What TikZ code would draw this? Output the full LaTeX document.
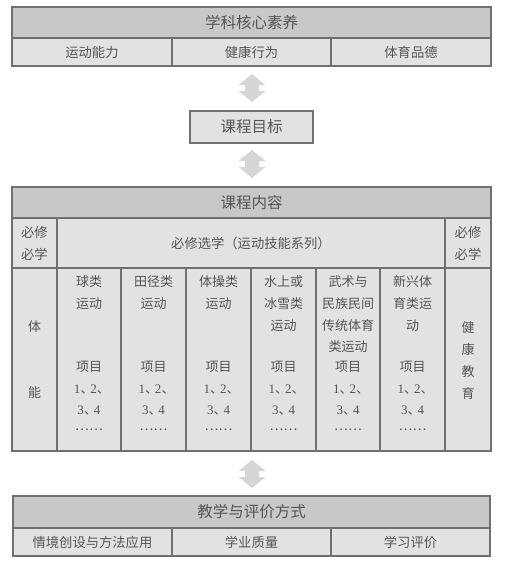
\documentclass[tikz,border=0pt]{standalone}
\usepackage{fontspec}
\setmainfont{Noto Sans CJK SC}
\newfontfamily\numf{Liberation Serif}
\definecolor{hdrfill}{HTML}{C8C8C8}
\definecolor{celfill}{HTML}{E2E2E2}
\definecolor{bdr}{HTML}{707070}
\definecolor{txt}{HTML}{555555}
\definecolor{arrfill}{HTML}{D6D6D6}
\tikzset{
  cellbox/.style={draw=bdr, line width=1.1pt, fill=celfill, inner sep=0pt, align=center,
    text=txt, font=\fontsize{13.3}{22}\selectfont},
  hdr/.style={fill=hdrfill, font=\fontsize{15.5}{18}\selectfont},
  big/.style={font=\fontsize{15.5}{18}\selectfont},
  bt/.style={inner sep=0pt, text=txt, font=\fontsize{13}{16}\selectfont},
}
\newcommand\cell[7][]{\node[cellbox,#1,minimum width={#5-#3},minimum height={#6-#4}] (#2) at ({(#3+#5)/2},{(#4+#6)/2}) {#7};}
\newcommand\dblarr[3]{%
  \fill[arrfill] (#1,#2) -- (#1+13.5,#2+11) -- (#1+7,#2+11) -- (#1+7,#3-11) -- (#1+13.5,#3-11)
    -- (#1,#3) -- (#1-13.5,#3-11) -- (#1-7,#3-11) -- (#1-7,#2+11) -- (#1-13.5,#2+11) -- cycle;}
\newcommand\dun{、\kern-3pt}
\begin{document}
\begin{tikzpicture}[x=1pt,y=-1pt]
\useasboundingbox (0,0) rectangle (511,566);
% top block
\cell[hdr]{core}{12}{7}{491}{38}{学科核心素养}
\cell{core1}{12}{38}{172}{66}{运动能力}
\cell{core2}{172}{38}{331}{66}{健康行为}
\cell{core3}{331}{38}{491}{66}{体育品德}
\dblarr{252}{74}{102}
\cell[big]{goal}{190}{111}{313}{143}{课程目标}
\dblarr{252}{150}{178}
% content block
\cell[hdr]{content}{12}{187}{491}{218}{课程内容}
\cell{req1}{12}{218}{57}{268}{必修\\必学}
\cell{sel}{57}{218}{445}{268}{必修选学（运动技能系列）}
\cell{req2}{445}{218}{491}{268}{必修\\必学}
\cell{fitc}{12}{268}{57}{451}{}
\cell{col1}{57}{268}{121}{451}{}
\cell{col2}{121}{268}{186}{451}{}
\cell{col3}{186}{268}{251}{451}{}
\cell{col4}{251}{268}{316}{451}{}
\cell{col5}{316}{268}{380}{451}{}
\cell{col6}{380}{268}{445}{451}{}
\cell{health}{445}{268}{491}{451}{}
\node[bt] (fit1) at (34.5,327) {体};
\node[bt] (fit2) at (34.5,393) {能};
\foreach \ch [count=\k] in {健,康,教,育}
  \node[bt] (hl\k) at (468,{328+(\k-1)*21.7}) {\ch};
\foreach \n/\x/\lines in {1/89/{球类,运动},2/153.5/{田径类,运动},3/218.5/{体操类,运动},
    4/283.5/{水上或,冰雪类,运动},5/348/{武术与,民族民间,传统体育,类运动},6/412.5/{新兴体,育类运,动}}{
  \foreach \l [count=\k] in \lines
    \node[bt] (t\n-\k) at (\x,{282+(\k-1)*21.6}) {\l};
  \node[bt] (p\n-1) at (\x,367) {项目};
  \node[bt] (p\n-2) at (\x+1.5,390) {{\numf 1}\dun{\numf 2}、\kern-3pt};
  \node[bt] (p\n-3) at (\x,411) {{\numf 3}\dun{\numf 4}};
  \node[bt] (p\n-4) at (\x,430) {……};
}
\dblarr{252}{460}{488}
% bottom block
\cell[hdr]{teach}{13}{496}{490}{528}{教学与评价方式}
\cell{teach1}{13}{528}{172}{556}{情境创设与方法应用}
\cell{teach2}{172}{528}{331}{556}{学业质量}
\cell{teach3}{331}{528}{490}{556}{学习评价}
\end{tikzpicture}
\end{document}
